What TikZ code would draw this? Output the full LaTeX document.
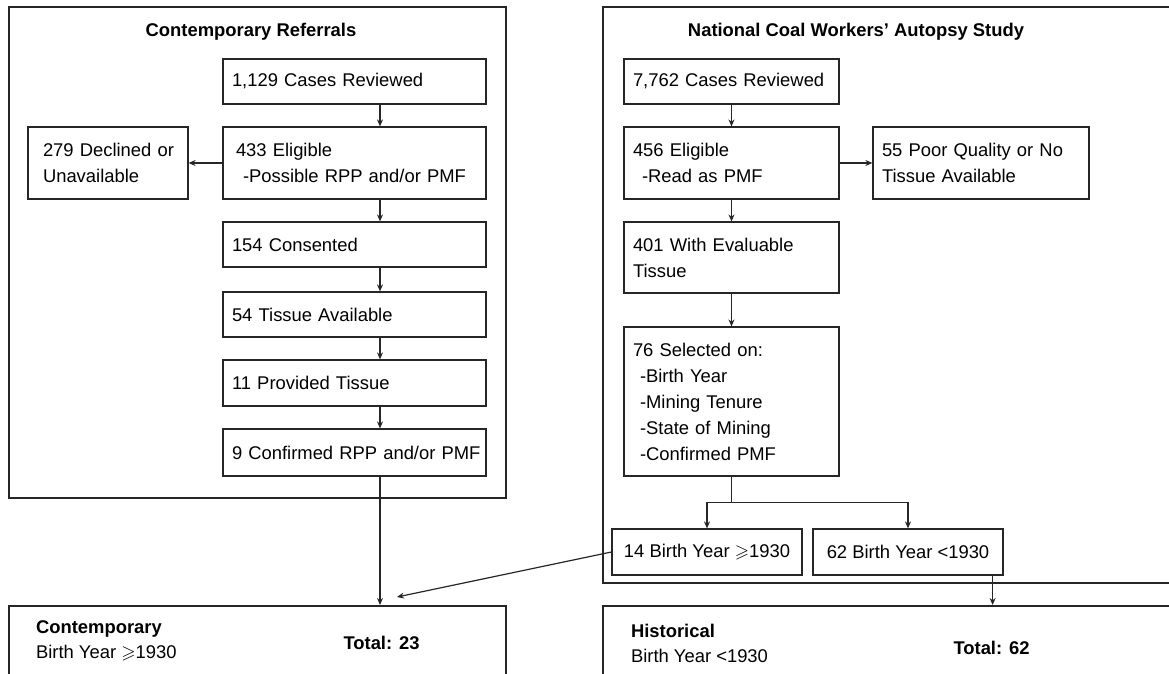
\documentclass[tikz,border=0pt]{standalone}
\usepackage{amssymb}
\usepackage{fontspec}
\setmainfont{Liberation Sans}
\usetikzlibrary{positioning,calc,arrows.meta}

\begin{document}
\begin{tikzpicture}[
  x=0.5pt, y=-0.5pt,
  font=\fontsize{9.2pt}{13pt}\selectfont,
  bx/.style={draw=black!85, line width=0.6pt, rectangle, inner xsep=4.5pt,
    inner ysep=0pt, align=left},
  frame/.style={draw=black!85, line width=1pt, rectangle, inner sep=0pt},
  ttl/.style={font=\fontsize{9.2pt}{13pt}\selectfont\bfseries},
  arr/.style={draw=black!85, line width=0.6pt,
    -{Stealth[length=3.5pt, width=3pt]}}
]
\clip (0,0) rectangle (1169,674);

% Outer frames
\node[frame, minimum width=248.5pt, minimum height=245.5pt] (fl) at (257.5,252.5) {};
\node[frame, minimum width=288.5pt, minimum height=288pt] (fr) at (891.5,295) {};
\node[ttl, anchor=base] (tl) at (251,37) {Contemporary Referrals};
\node[ttl, anchor=base] (tr) at (856,37) {National Coal Workers' Autopsy Study};

% Contemporary chain
\node[bx, minimum width=131.5pt, text width=122.5pt, minimum height=22.5pt]
  (lc1) at (354.5,81.5) {1,129 Cases Reviewed};
\node[bx, minimum width=131.5pt, text width=122.5pt, minimum height=36pt]
  (lc2) at (354.5,163) {\hspace*{2pt}433 Eligible\\\hspace*{5.5pt}-Possible RPP and/or PMF};
\node[bx, minimum width=131.5pt, text width=122.5pt, minimum height=22.5pt]
  (lc3) at (354.5,244.5) {154 Consented};
\node[bx, minimum width=131.5pt, text width=122.5pt, minimum height=22.5pt]
  (lc4) at (354.5,314.5) {54 Tissue Available};
\node[bx, minimum width=131.5pt, text width=122.5pt, minimum height=23pt]
  (lc5) at (354.5,383) {11 Provided Tissue};
\node[bx, minimum width=131.5pt, text width=122.5pt, minimum height=23.5pt]
  (lc6) at (354.5,452.5) {\mbox{9 Confirmed RPP and/or PMF}};
\node[bx, inner xsep=7.5pt, minimum width=80pt, text width=65pt, minimum height=36pt]
  (decl) at (108,163) {\mbox{279 Declined or}\\Unavailable};

% Autopsy study chain
\node[bx, minimum width=107.5pt, text width=98.5pt, minimum height=22.5pt]
  (rc1) at (731.5,81.5) {7,762 Cases Reviewed};
\node[bx, minimum width=107.5pt, text width=98.5pt, minimum height=36pt]
  (rc2) at (731.5,163) {456 Eligible\\\hspace*{4.5pt}-Read as PMF};
\node[bx, minimum width=107.5pt, text width=98.5pt, minimum height=35.5pt]
  (rc3) at (731.5,257.5) {401 With Evaluable\\Tissue};
\node[bx, minimum width=107.5pt, text width=98.5pt, minimum height=74.5pt]
  (rc4) at (731.5,401.5) {76 Selected on:\\\hspace*{3.5pt}-Birth Year\\
  \hspace*{3.5pt}-Mining Tenure\\\hspace*{3.5pt}-State of Mining\\
  \hspace*{3.5pt}-Confirmed PMF};
\node[bx, minimum width=108pt, text width=99pt, minimum height=36pt]
  (poor) at (981,163) {\mbox{55 Poor Quality or No}\\Tissue Available};
\node[bx, minimum width=95pt, minimum height=23pt]
  (b14) at (707,552) {14 Birth Year $\geqslant$1930};
\node[bx, minimum width=95pt, minimum height=23pt]
  (b62) at (908,552) {62 Birth Year <1930};

% Result boxes
\node[frame, minimum width=248.5pt, minimum height=47pt] (contemp) at (257.5,653) {};
\node[frame, minimum width=288.5pt, minimum height=47pt] (hist) at (891.5,653) {};
\node[ttl, anchor=base west] (ctl) at (29,633) {Contemporary};
\node[anchor=base west] (cyr) at (29,658) {Birth Year $\geqslant$1930};
\node[ttl, anchor=base] (ctot) at (381.5,649) {Total: 23};
\node[ttl, anchor=base west] (htl) at (624,637) {Historical};
\node[anchor=base west] (hyr) at (624,662) {Birth Year <1930};
\node[ttl, anchor=base] (htot) at (991.5,654) {Total: 62};
\coordinate (cin) at (397,597);

% Connectors
\foreach \a/\b in {lc1/lc2, lc2/lc3, lc3/lc4, lc4/lc5, lc5/lc6}
  \draw[arr] ([xshift=12.75pt]\a.south) -- ([xshift=12.75pt]\b.north);
\draw[arr] ([xshift=12.75pt]lc6.south) -- ([xshift=12.75pt]lc6.south |- contemp.north);
\draw[arr] (lc2.west) -- (decl.east);
\foreach \a/\b in {rc1/rc2, rc2/rc3, rc3/rc4}
  \draw[arr] (\a.south) -- (\b.north);
\draw[arr] (rc2.east) -- (poor.west);
\draw[arr] (rc4.south) -- ++(0pt,-13pt) -| (b14.north);
\draw[arr] (rc4.south) -- ++(0pt,-13pt) -| (b62.north);
\draw[arr] (b14.west) -- (cin);
\draw[arr] ([xshift=-5.5pt]b62.south east) -- ([xshift=-5.5pt]b62.south east |- hist.north);
\end{tikzpicture}
\end{document}
